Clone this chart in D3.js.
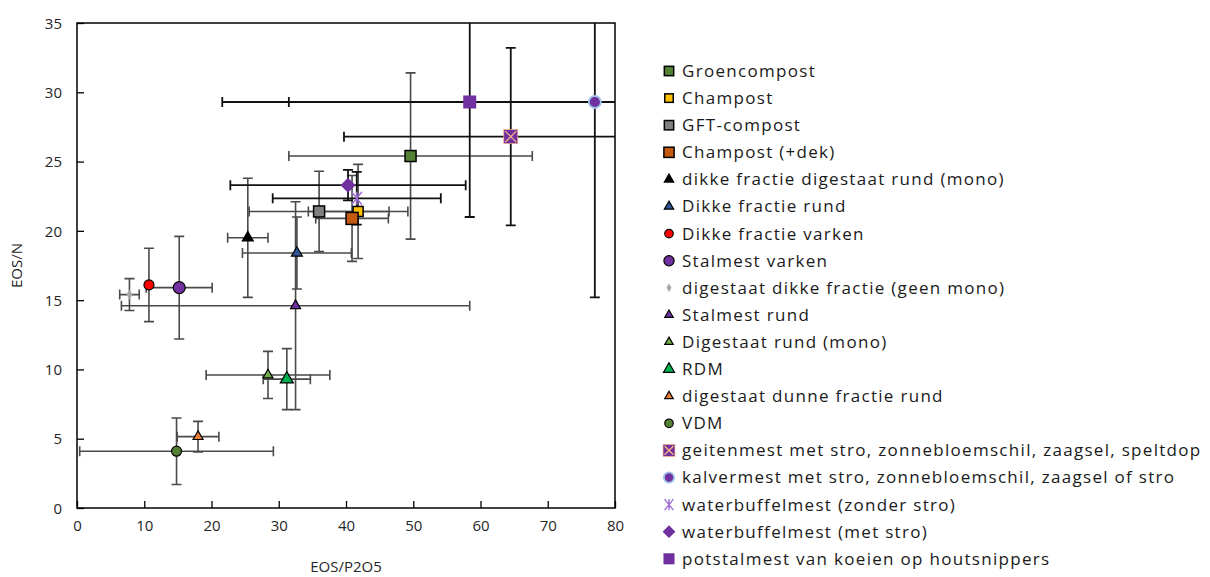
<!DOCTYPE html>
<html>
<head>
    <meta http-equiv="content-type" content="text/html; charset=utf-8" />
    <style>
        body { margin: 0; background: #fff; }
        #root { width: 1210px; height: 577px; }
        text { font-family: "Open Sans", "DejaVu Sans", sans-serif; }
    </style>
</head>
<body>
    <div id="root"></div>

    <script src="https://d3js.org/d3.v7.min.js"></script>
    <script>
        // series names, in legend order
        const categories = [
            'Groencompost',
            'Champost',
            'GFT-compost',
            'Champost (+dek)',
            'dikke fractie digestaat rund (mono)',
            'Dikke fractie rund',
            'Dikke fractie varken',
            'Stalmest varken',
            'digestaat dikke fractie (geen mono)',
            'Stalmest rund',
            'Digestaat rund (mono)',
            'RDM',
            'digestaat dunne fractie rund',
            'VDM',
            'geitenmest met stro, zonnebloemschil, zaagsel, speltdop',
            'kalvermest met stro, zonnebloemschil, zaagsel of stro',
            'waterbuffelmest (zonder stro)',
            'waterbuffelmest (met stro)',
            'potstalmest van koeien op houtsnippers'
        ]
        // EOS/P2O5
        const xValues = [49.6, 41.8, 36.0, 40.9, 25.4, 32.7, 10.7, 15.2, 7.8, 32.5, 28.4, 31.2, 18.0, 14.8, 64.5, 77.0, 41.6, 40.3, 58.4]
        // EOS/N
        const yValues = [25.4, 21.4, 21.4, 20.9, 19.5, 18.4, 16.1, 15.9, 15.4, 14.6, 9.6, 9.3, 5.15, 4.1, 26.8, 29.3, 22.35, 23.3, 29.3]
        // standaardafwijking
        const xErrors = [18.1, 7.4, 10.4, 5.4, 3.0, 8.1, 0, 4.9, 1.45, 25.9, 9.2, 3.5, 3.1, 14.4, 24.8, 45.5, 12.5, 17.5, 36.8]
        const yErrors = [6.0, 3.4, 2.9, 3.1, 4.3, 2.6, 2.65, 3.7, 1.15, 7.5, 1.7, 2.2, 1.1, 2.4, 6.4, 14.1, 1.9, 1.1, 8.3]

        const xTicks = [0, 10, 20, 30, 40, 50, 60, 70, 80]
        const yTicks = [0, 5, 10, 15, 20, 25, 30, 35]

        // marker look per series
        const markers = [
            { shape: 'square', fill: '#548235', size: 11 },
            { shape: 'square', fill: '#ffc000', size: 10 },
            { shape: 'square', fill: '#808080', size: 11 },
            { shape: 'square', fill: '#c55a11', size: 12 },
            { shape: 'triangle', fill: '#000000', size: 11 },
            { shape: 'triangle', fill: '#2f5597', size: 11 },
            { shape: 'circle', fill: '#ff0000', size: 10 },
            { shape: 'circle', fill: '#7030a0', size: 12 },
            { shape: 'dot', fill: '#a6a6a6', size: 7 },
            { shape: 'triangle', fill: '#7030a0', size: 10 },
            { shape: 'triangle', fill: '#70ad47', size: 10 },
            { shape: 'triangle', fill: '#00b050', size: 13 },
            { shape: 'triangle', fill: '#ed7d31', size: 10 },
            { shape: 'circle', fill: '#548235', size: 10 },
            { shape: 'xsquare', fill: '#7030a0', size: 14 },
            { shape: 'halo', fill: '#7030a0', size: 12 },
            { shape: 'star', fill: '#9e6fd6', size: 13 },
            { shape: 'diamond', fill: '#7030a0', size: 15 },
            { shape: 'square', fill: '#7030a0', size: 13, noStroke: true }
        ]
        const errColor = (i) => i >= 14 ? '#111' : '#4a4a4a'

        const W = 1210, H = 577
        const svg = d3.select('#root').append('svg')
            .attr('width', W)
            .attr('height', H)

        const x = d3.scaleLinear().domain([0, 80]).range([77, 615])
        const y = d3.scaleLinear().domain([0, 35]).range([508, 23])

        // axes (ticks inside)
        const yAxis = svg.append('g')
            .attr('transform', 'translate(77,0)')
            .call(d3.axisLeft(y).tickValues(yTicks).tickSizeInner(-7).tickSizeOuter(0).tickPadding(15))
        const xAxis = svg.append('g')
            .attr('transform', 'translate(0,508)')
            .call(d3.axisBottom(x).tickValues(xTicks).tickSizeInner(-7).tickSizeOuter(0).tickPadding(12))
        ;[yAxis, xAxis].forEach(a => {
            a.select('.domain').remove()
            a.selectAll('line').attr('stroke', '#000').attr('stroke-width', 1.3)
            a.selectAll('text').attr('font-size', 15).attr('fill', '#262626')
                .style('font-family', '"Open Sans", sans-serif')
        })
        yAxis.selectAll('text').attr('dy', '0.35em')

        svg.append('rect')
            .attr('x', 77).attr('y', 23)
            .attr('width', 615 - 77).attr('height', 508 - 23)
            .attr('fill', 'none')
            .attr('stroke', '#000')
            .attr('stroke-width', 1.5)

        svg.append('text')
            .attr('transform', `translate(22,${(23 + 508) / 2}) rotate(-90)`)
            .attr('text-anchor', 'middle')
            .attr('font-size', 15)
            .attr('fill', '#262626')
            .text('EOS/N')
        svg.append('text')
            .attr('x', (77 + 615) / 2)
            .attr('y', 572)
            .attr('text-anchor', 'middle')
            .attr('font-size', 15)
            .attr('fill', '#262626')
            .text('EOS/P2O5')

        svg.append('clipPath').attr('id', 'plotclip')
            .append('rect')
            .attr('x', 77).attr('y', 23)
            .attr('width', 615 - 77).attr('height', 508 - 23)

        // error bars
        const cap = 5
        const errG = svg.append('g').attr('clip-path', 'url(#plotclip)')
        categories.forEach((name, i) => {
            const cx = x(xValues[i]), cy = y(yValues[i])
            const g = errG.append('g')
                .attr('stroke', errColor(i))
                .attr('stroke-width', i >= 14 ? 1.8 : 1.6)
                .attr('fill', 'none')
            if (xErrors[i] > 0) {
                const x0 = x(xValues[i] - xErrors[i]), x1 = x(xValues[i] + xErrors[i])
                g.append('path').attr('d', `M${x0},${cy}H${x1}M${x0},${cy - cap}V${cy + cap}M${x1},${cy - cap}V${cy + cap}`)
            }
            if (yErrors[i] > 0) {
                const y0 = y(yValues[i] - yErrors[i]), y1 = y(yValues[i] + yErrors[i])
                g.append('path').attr('d', `M${cx},${y0}V${y1}M${cx - cap},${y0}H${cx + cap}M${cx - cap},${y1}H${cx + cap}`)
            }
        })

        function drawMarker(g, m, k) {
            const s = m.size * k
            if (m.shape === 'square' || m.shape === 'xsquare') {
                g.append('rect')
                    .attr('x', -s / 2).attr('y', -s / 2)
                    .attr('width', s).attr('height', s)
                    .attr('fill', m.fill)
                    .attr('stroke', m.noStroke || m.shape === 'xsquare' ? 'none' : '#000')
                    .attr('stroke-width', 1.5)
                if (m.shape === 'xsquare') {
                    const h = s / 2 - 1.5
                    g.append('path')
                        .attr('d', `M${-h},${-h}L${h},${h}M${-h},${h}L${h},${-h}`)
                        .attr('stroke', '#f4b183').attr('stroke-width', 1.4)
                    g.append('rect')
                        .attr('x', -s / 2).attr('y', -s / 2)
                        .attr('width', s).attr('height', s)
                        .attr('fill', 'none').attr('stroke', '#f4b183').attr('stroke-width', 0.7)
                }
            } else if (m.shape === 'triangle') {
                const area = s * s * Math.sqrt(3) / 4
                g.append('path')
                    .attr('d', d3.symbol(d3.symbolTriangle, area)())
                    .attr('fill', m.fill).attr('stroke', '#000').attr('stroke-width', 1.2)
            } else if (m.shape === 'circle') {
                g.append('circle').attr('r', s / 2)
                    .attr('fill', m.fill).attr('stroke', '#000').attr('stroke-width', 1.2)
            } else if (m.shape === 'halo') {
                g.append('circle').attr('r', s / 2)
                    .attr('fill', m.fill).attr('stroke', '#9dc3e6').attr('stroke-width', 1.8)
            } else if (m.shape === 'dot') {
                g.append('path')
                    .attr('d', d3.symbol(d3.symbolDiamond, s * s * 0.6)())
                    .attr('fill', m.fill)
            } else if (m.shape === 'diamond') {
                const h = s / 2
                g.append('path')
                    .attr('d', `M0,${-h}L${h},0L0,${h}L${-h},0Z`)
                    .attr('fill', m.fill)
            } else if (m.shape === 'star') {
                const h = s / 2
                g.append('path')
                    .attr('d', `M0,${-h}V${h}M${-h * 0.8},${-h}L${h * 0.8},${h}M${-h * 0.8},${h}L${h * 0.8},${-h}`)
                    .attr('stroke', m.fill).attr('stroke-width', 1.4)
            }
        }

        // markers
        categories.forEach((name, i) => {
            const g = svg.append('g')
                .attr('transform', `translate(${x(xValues[i])},${y(yValues[i])})`)
            drawMarker(g, markers[i], 1)
        })

        // legend
        const legend = svg.append('g').attr('transform', 'translate(669,71)')
        categories.forEach((name, i) => {
            const row = legend.append('g').attr('transform', `translate(0,${i * 27.1})`)
            drawMarker(row.append('g'), markers[i], 0.85)
            row.append('text')
                .attr('x', 13)
                .attr('dy', '0.35em')
                .attr('font-size', 17)
                .attr('letter-spacing', 1.3)
                .attr('fill', '#1a1a1a')
                .text(name)
        })
    </script>
</body>
</html>
